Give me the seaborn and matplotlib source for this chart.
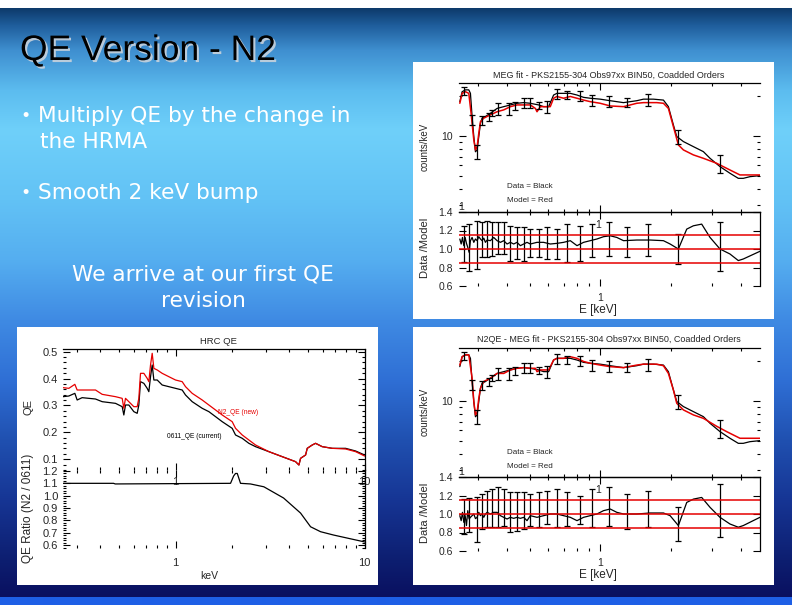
import numpy as np
import seaborn as sns
import matplotlib
matplotlib.use("Agg")
import matplotlib.pyplot as plt
import matplotlib.patheffects as pe
from matplotlib.colors import to_rgb
from matplotlib.patches import Rectangle
from matplotlib.ticker import NullFormatter, MultipleLocator

# ---- MEG spectrum (same data in both fit panels) ----
meg_e = [0.252, 0.2578, 0.2664, 0.2752, 0.2797, 0.2843, 0.2891, 0.2938, 0.2987, 0.3036,
         0.3086, 0.3136, 0.324, 0.3402, 0.3633, 0.3878, 0.414, 0.4418, 0.4717, 0.5036,
         0.5465, 0.5739, 0.6027, 0.6328, 0.6538, 0.6982, 0.7456, 0.7963, 0.8494, 0.9067,
         1.0, 1.103, 1.257, 1.432, 1.529, 1.686, 1.86, 1.953, 2.051, 2.12,
         2.263, 2.496, 2.753, 2.939, 3.241, 3.574, 3.879, 4.074, 4.348, 4.796]
meg_data = [18.1, 21.5, 22.2, 22.2, 20.9, 14.0, 9.9, 7.6, 7.85, 9.9,
            12.45, 13.6, 14.0, 14.8, 16.1, 16.6, 17.1, 17.6, 17.8, 17.6,
            17.1, 16.6, 16.6, 20.3, 20.9, 20.9, 20.9, 20.3, 19.5, 19.2,
            18.9, 18.4, 17.8, 18.4, 18.9, 18.9, 18.6, 16.6, 12.1, 9.9,
            9.07, 8.31, 7.62, 6.79, 5.88, 5.24, 4.8, 4.8, 4.94, 5.03]

err_e = [0.262, 0.2843, 0.2987, 0.3136, 0.3347, 0.3459, 0.366, 0.407, 0.4348, 0.4717, 0.5036,
         0.5465, 0.5929, 0.6538, 0.7215, 0.8222, 0.9216, 1.085, 1.299, 1.606, 2.154, 3.241]
err_lo = [20.3, 12.1, 6.68, 12.1, 13.0, 14.0, 14.4, 14.4, 15.7, 16.1, 16.1,
          15.9, 15.0, 18.9, 18.9, 18.4, 16.8, 16.6, 16.5, 16.8, 8.7, 5.3]
err_hi = [23.2, 14.4, 8.56, 14.1, 15.0, 15.7, 17.6, 17.6, 18.1, 19.2, 19.2,
          18.1, 18.4, 22.6, 21.9, 21.9, 20.3, 19.8, 19.2, 20.6, 11.1, 7.2]

# model of the old QE (top right)
old_model_e = [0.252, 0.2578, 0.2664, 0.2752, 0.2815, 0.2891, 0.2938, 0.2987, 0.3036, 0.3086,
               0.3188, 0.3402, 0.3633, 0.3878, 0.414, 0.4418, 0.4717, 0.5036, 0.529, 0.5377,
               0.5555, 0.5739, 0.6124, 0.6328, 0.6538, 0.6982, 0.7456, 0.7963, 0.8494, 0.9067,
               1.0, 1.103, 1.257, 1.432, 1.529, 1.742, 1.86, 1.953, 2.051, 2.154,
               2.263, 2.496, 2.753, 3.136, 3.459, 3.693, 3.943, 4.348, 4.796]
old_model = [17.6, 20.9, 21.5, 20.9, 14.8, 9.33, 7.85, 8.31, 10.47, 12.8,
             13.6, 14.4, 15.2, 15.7, 16.6, 17.1, 17.1, 17.1, 16.1, 15.2,
             16.6, 16.6, 16.6, 19.2, 19.8, 19.2, 19.8, 19.2, 18.6, 18.1,
             17.6, 16.8, 16.6, 17.6, 17.8, 17.8, 17.6, 16.1, 11.75, 8.56,
             7.85, 7.2, 6.79, 6.23, 5.71, 5.39, 5.09, 5.09, 5.09]

# model of the N2 QE (bottom right)
n2_model_e = [0.252, 0.2578, 0.2664, 0.2752, 0.2843, 0.2891, 0.2938, 0.2987, 0.3036, 0.3086,
              0.3188, 0.3402, 0.3633, 0.3878, 0.414, 0.4418, 0.4717, 0.5036, 0.529, 0.5377,
              0.5555, 0.6027, 0.6328, 0.6538, 0.6982, 0.7456, 0.7963, 0.8494, 0.9067, 1.0,
              1.103, 1.257, 1.432, 1.529, 1.742, 1.86, 1.953, 2.051, 2.12, 2.263,
              2.496, 2.753, 3.136, 3.459, 3.693, 3.943, 4.796]
n2_model = [18.6, 21.5, 22.2, 22.2, 14.8, 9.89, 7.85, 8.2, 10.47, 12.45,
            14.0, 14.8, 16.1, 16.1, 17.1, 17.6, 17.8, 17.6, 17.6, 16.6,
            17.1, 17.1, 20.3, 20.9, 20.9, 21.5, 20.9, 19.8, 19.2, 18.6,
            18.1, 17.8, 18.6, 18.9, 18.9, 18.4, 16.1, 12.1, 9.6, 8.56,
            7.85, 7.4, 6.45, 5.88, 5.55, 5.24, 5.24]

# data / model residuals
ratio_e = [0.252, 0.2554, 0.2587, 0.2621, 0.2655, 0.269, 0.2725, 0.2761, 0.2797, 0.2843,
           0.2891, 0.2938, 0.2987, 0.3036, 0.3086, 0.3136, 0.3188, 0.324, 0.3294, 0.3402,
           0.3515, 0.3633, 0.3754, 0.3878, 0.4007, 0.414, 0.4277, 0.4418, 0.4566, 0.4717,
           0.4875, 0.5036, 0.5377, 0.5739, 0.6124, 0.6538, 0.6982, 0.7456, 0.7963, 0.8494,
           0.9067, 0.968, 1.033, 1.103, 1.177, 1.257, 1.432, 1.632, 1.86, 1.986,
           2.154, 2.338, 2.496, 2.708, 2.939, 3.241, 3.574, 3.879, 4.074, 4.796]
old_ratio = [1.108, 1.054, 1.125, 1.036, 1.125, 1.061, 1.018, 0.964, 1.09, 1.125,
             1.072, 1.108, 1.09, 1.133, 1.108, 1.09, 1.118, 1.072, 1.097, 1.09,
             1.125, 1.09, 1.072, 1.09, 1.054, 1.072, 1.054, 1.072, 1.036, 1.054,
             1.072, 1.054, 1.072, 1.072, 1.054, 1.061, 1.072, 1.09, 1.036, 1.072,
             1.09, 1.108, 1.133, 1.143, 1.125, 1.09, 1.097, 1.097, 1.09, 1.054,
             1.0, 1.215, 1.251, 1.269, 1.125, 1.0, 0.946, 0.875, 0.892, 0.975]
n2_ratio = [0.982, 0.928, 1.018, 0.91, 0.982, 0.875, 1.036, 0.946, 0.964, 0.982,
            1.0, 0.95, 0.964, 1.018, 0.982, 1.0, 0.964, 1.0, 1.018, 1.0,
            1.018, 1.018, 0.982, 0.964, 0.946, 0.964, 0.953, 0.964, 0.953, 0.964,
            0.928, 0.982, 0.964, 0.982, 1.0, 1.0, 0.982, 0.964, 0.928, 0.964,
            0.982, 1.0, 1.036, 1.054, 1.018, 1.0, 1.0, 1.011, 1.011, 0.982,
            0.875, 1.125, 1.161, 1.179, 1.072, 0.964, 0.892, 0.857, 0.875, 0.964]

rerr_e = [0.2621, 0.2752, 0.2987, 0.3136, 0.3294, 0.3459, 0.3657, 0.3878, 0.414, 0.4418, 0.4717, 0.5036,
          0.5465, 0.5929, 0.6538, 0.7215, 0.8222, 0.9216, 1.085, 1.299, 1.606, 2.154, 3.241]
old_rerr_lo = [0.857, 0.760, 0.785, 0.91, 0.91, 0.928, 0.946, 0.946, 0.875, 0.892, 0.875, 0.91,
               0.91, 0.892, 0.892, 0.857, 0.875, 0.91, 0.928, 0.91, 0.928, 0.839, 0.767]
old_rerr_hi = [1.251, 1.269, 1.305, 1.287, 1.305, 1.287, 1.287, 1.287, 1.251, 1.233, 1.233, 1.215,
               1.215, 1.233, 1.215, 1.269, 1.251, 1.269, 1.287, 1.233, 1.269, 1.161, 1.287]
n2_rerr_lo = [0.785, 0.803, 0.695, 0.839, 0.857, 0.857, 0.857, 0.875, 0.803, 0.821, 0.839, 0.875,
              0.857, 0.892, 0.857, 0.875, 0.892, 0.857, 0.875, 0.839, 0.857, 0.713, 0.749]
n2_rerr_hi = [1.161, 1.168, 1.179, 1.215, 1.251, 1.269, 1.287, 1.269, 1.233, 1.233, 1.233, 1.215,
              1.233, 1.251, 1.269, 1.233, 1.197, 1.269, 1.287, 1.215, 1.251, 1.072, 1.323]
ratio_ref = [0.85, 1.0, 1.15]

# ---- HRC QE ----
qe_e = [0.2544, 0.2727, 0.2934, 0.3018, 0.3207, 0.3774, 0.4093, 0.4815, 0.5222, 0.5328,
        0.5437, 0.5663, 0.6018, 0.6269, 0.6397, 0.6528, 0.6799, 0.7081, 0.7226, 0.7375,
        0.7526, 0.7681, 0.8, 0.85, 0.9221, 1.0, 1.0845, 1.1295, 1.225, 1.384,
        1.501, 1.628, 1.766, 1.994, 2.077, 2.253, 2.443, 2.65, 3.118, 3.667,
        4.314, 4.494, 4.585, 4.874, 4.974, 5.285, 5.504, 5.97, 6.745, 7.934, 8.962, 10.0]
qe_0611 = [0.3327, 0.3352, 0.3451, 0.3203, 0.329, 0.324, 0.3141, 0.3079, 0.2955, 0.2646,
           0.3017, 0.3017, 0.277, 0.2708, 0.3017, 0.3885, 0.3823, 0.3637, 0.3513, 0.407,
           0.4505, 0.3947, 0.3947, 0.3761, 0.3699, 0.3637, 0.3575, 0.3389, 0.3141, 0.2894,
           0.277, 0.2584, 0.2397, 0.215, 0.1902, 0.1778, 0.1592, 0.1468, 0.1282, 0.1096,
           0.091, 0.0786, 0.1034, 0.1158, 0.1406, 0.153, 0.1592, 0.1468, 0.1406, 0.1406, 0.1307, 0.1158]
qe_n2 = [0.3662, 0.3637, 0.3786, 0.3575, 0.3575, 0.3575, 0.3414, 0.3327, 0.3265, 0.2894,
         0.3265, 0.3141, 0.2955, 0.2955, 0.3265, 0.4195, 0.4195, 0.4009, 0.3885, 0.4505,
         0.494, 0.438, 0.432, 0.4195, 0.407, 0.3947, 0.3885, 0.3699, 0.3451, 0.3203,
         0.3017, 0.2832, 0.2646, 0.2397, 0.215, 0.1902, 0.1716, 0.153, 0.1282, 0.1096,
         0.091, 0.0786, 0.1034, 0.1158, 0.1406, 0.153, 0.1592, 0.1468, 0.1406, 0.1381, 0.1282, 0.1121]

qr_e = [0.255, 0.47, 0.48, 1.954, 2.03, 2.077, 2.121, 2.207, 2.49, 2.932,
        3.728, 4.585, 5.18, 5.85, 6.855, 9.88, 10.0]
qr_val = [1.10, 1.10, 1.095, 1.10, 1.16, 1.18, 1.18, 1.10, 1.095, 1.072,
          0.981, 0.859, 0.748, 0.708, 0.681, 0.627, 0.625]

meg_minor = [0.3, 0.4, 0.5, 0.6, 0.7, 0.8, 0.9, 2, 3, 4]
qe_minor = [0.3, 0.4, 0.5, 0.6, 0.7, 0.8, 0.9, 2, 3, 4, 5, 6, 7, 8, 9]

W, H = 792, 612
RED = "#e60000"

sns.set_style("ticks")
plt.rcParams['font.family'] = ['Liberation Sans', 'DejaVu Sans']

fig = plt.figure(figsize=(W / 100, H / 100), dpi=100)


def frac(x0, y0, x1, y1):
    return [x0 / W, 1 - y1 / H, (x1 - x0) / W, (y1 - y0) / H]


def ftext(x, y, s, **kw):
    return fig.text(x / W, 1 - y / H, s, **kw)


# slide background
bg_stops = [(0, "#ffffff"), (7, "#ffffff"), (8, "#0d3a6b"), (25, "#1f5e9c"), (50, "#3f8fd0"),
            (90, "#5cbcef"), (130, "#6fd0fa"), (200, "#62c2f5"), (260, "#55aef0"),
            (320, "#3f8ae3"), (380, "#2f6fd5"), (440, "#2050b0"), (500, "#163594"),
            (560, "#0d1e70"), (596, "#0a1060"), (597, "#1e5fe6"), (604, "#1e5fe6"),
            (605, "#ffffff"), (612, "#ffffff")]
ys = [s[0] for s in bg_stops]
cols = np.array([to_rgb(s[1]) for s in bg_stops])
rows = np.arange(H)
grad = np.stack([np.interp(rows, ys, cols[:, k]) for k in range(3)], axis=1)[:, None, :]
bg = fig.add_axes([0, 0, 1, 1], zorder=-10)
bg.imshow(grad, aspect="auto", extent=[0, 1, 0, 1], interpolation="bilinear")
bg.set_axis_off()

for x0, y0, x1, y1 in [(413, 62, 774, 319), (17, 327, 378, 585), (413, 327, 774, 585)]:
    fig.patches.append(Rectangle((x0 / W, 1 - y1 / H), (x1 - x0) / W, (y1 - y0) / H,
                                 transform=fig.transFigure, facecolor="white",
                                 edgecolor="none", zorder=-5))

# slide text
ftext(20, 60, "QE Version - N2", fontsize=25.5, family="Liberation Sans", color="black",
      va="baseline", path_effects=[pe.withSimplePatchShadow(offset=(1.5, -1.5),
                                                            shadow_rgbFace="#c8d2dc", alpha=0.9)])
body = dict(family="DejaVu Sans", color="white", fontsize=15.6, va="baseline")
ftext(20, 121, "\u2022", family="DejaVu Sans", color="white", fontsize=12.5, va="baseline")
ftext(38, 122, "Multiply QE by the change in", **body)
ftext(40, 148, "the HRMA", **body)
ftext(20, 198, "\u2022", family="DejaVu Sans", color="white", fontsize=12.5, va="baseline")
ftext(38, 199, "Smooth 2 keV bump", **body)
ftext(203, 281, "We arrive at our first QE", ha="center", **body)
ftext(203, 307, "revision", ha="center", **body)


def style(ax, spines):
    for side in ["top", "bottom", "left", "right"]:
        ax.spines[side].set_visible(side in spines)
        ax.spines[side].set_linewidth(0.9)
        ax.spines[side].set_color("black")
    ax.set_facecolor("none")
    ax.tick_params(which="both", direction="in", top=True, bottom=True, left=True,
                   right=True, width=0.8, color="black")
    ax.tick_params(which="major", length=5)
    ax.tick_params(which="minor", length=2.5)
    ax.set_xlabel("")
    ax.set_ylabel("")


def meg_panel(top, title, model_e, model_c, ratio_v, rlo, rhi):
    ftext(609, top + 13, title, ha="center", va="center", fontsize=6.5)
    up = fig.add_axes(frac(459, top + 21, 760, top + 150))
    lo = fig.add_axes(frac(459, top + 150, 760, top + 224))

    sns.lineplot(x=meg_e, y=meg_data, ax=up, color="black", lw=0.9,
                 estimator=None, sort=False)
    sns.lineplot(x=model_e, y=model_c, ax=up, color=RED, lw=1.1,
                 estimator=None, sort=False)
    mid = np.sqrt(np.array(err_lo) * np.array(err_hi))
    up.errorbar(err_e, mid, yerr=[mid - np.array(err_lo), np.array(err_hi) - mid],
                fmt="none", ecolor="black", elinewidth=0.9, capsize=2.5, capthick=0.9)
    up.set_xscale("log")
    up.set_yscale("log")
    up.set_xlim(0.25, 4.8)
    up.set_ylim(2.68, 25)
    style(up, ["top", "bottom"])
    up.set_yticks([10], ["10"])
    up.set_yticks([3, 4, 5, 6, 7, 8, 9, 20], minor=True)
    up.yaxis.set_minor_formatter(NullFormatter())
    up.set_xticks([1], [""])
    up.set_xticks(meg_minor, minor=True)
    up.xaxis.set_minor_formatter(NullFormatter())
    up.tick_params(axis="y", labelsize=7.5, pad=4.3)

    sns.lineplot(x=ratio_e, y=ratio_v, ax=lo, color="black", lw=0.9,
                 estimator=None, sort=False)
    rmid = (np.array(rlo) + np.array(rhi)) / 2
    lo.errorbar(rerr_e, rmid, yerr=(np.array(rhi) - np.array(rlo)) / 2, fmt="none",
                ecolor="black", elinewidth=0.9, capsize=2.5, capthick=0.9)
    for r in ratio_ref:
        lo.axhline(r, color=RED, lw=1.1)
    lo.set_xscale("log")
    lo.set_xlim(0.25, 4.8)
    lo.set_ylim(0.6, 1.4)
    style(lo, ["top", "right"])
    lo.set_yticks([0.6, 0.8, 1.0, 1.2, 1.4], ["0.6", "0.8", "1.0", "1.2", "1.4"])
    lo.set_xticks([1], ["1"])
    lo.set_xticks(meg_minor, minor=True)
    lo.xaxis.set_minor_formatter(NullFormatter())
    lo.tick_params(axis="y", labelsize=7.5, pad=4.3)
    lo.tick_params(axis="x", labelsize=7.5, pad=5)

    ftext(598, top + 163, "1", ha="center", va="center", fontsize=7.5)
    ftext(461, top + 145, "1", ha="center", va="center", fontsize=7.5)
    ftext(425, top + 85, "counts/keV", rotation=90, ha="center", va="center", fontsize=7)
    ftext(425, top + 186, "Data /Model", rotation=90, ha="center", va="center", fontsize=8)
    ftext(598, top + 248, "E [keV]", ha="center", va="center", fontsize=8.5)
    ftext(507, top + 125, "Data = Black", ha="left", va="center", fontsize=5.8)
    ftext(507, top + 139, "Model = Red", ha="left", va="center", fontsize=5.8)


meg_panel(62, "MEG fit - PKS2155-304 Obs97xx BIN50, Coadded Orders",
          old_model_e, old_model, old_ratio, old_rerr_lo, old_rerr_hi)
meg_panel(327, "N2QE - MEG fit - PKS2155-304 Obs97xx BIN50, Coadded Orders",
          n2_model_e, n2_model, n2_ratio, n2_rerr_lo, n2_rerr_hi)

# ---- HRC QE panel ----
ftext(218, 341, "HRC QE", ha="center", va="center", fontsize=6.8)
qa = fig.add_axes(frac(63, 349, 365, 470))
qb = fig.add_axes(frac(63, 470, 365, 548))

sns.lineplot(x=qe_e, y=qe_0611, ax=qa, color="black", lw=0.9, estimator=None, sort=False)
sns.lineplot(x=qe_e, y=qe_n2, ax=qa, color=RED, lw=0.9, estimator=None, sort=False)
qa.set_xscale("log")
qa.set_xlim(0.254, 10.05)
qa.set_ylim(0.06, 0.51)
style(qa, ["top", "right"])
qa.set_yticks([0.1, 0.2, 0.3, 0.4, 0.5], ["0.1", "0.2", "0.3", "0.4", "0.5"])
qa.yaxis.set_minor_locator(MultipleLocator(0.02))
qa.set_xticks([1, 10], ["1", "10"])
qa.set_xticks(qe_minor, minor=True)
qa.xaxis.set_minor_formatter(NullFormatter())
qa.tick_params(axis="y", labelsize=8, pad=3.6)
qa.tick_params(axis="x", labelsize=8, pad=5)
ftext(218, 412, "N2_QE (new)", color=RED, fontsize=4.8, ha="left", va="center")
ftext(167, 436, "0611_QE (current)", color="black", fontsize=4.8, ha="left", va="center")

sns.lineplot(x=qr_e, y=qr_val, ax=qb, color="black", lw=0.9, estimator=None, sort=False)
qb.set_xscale("log")
qb.set_xlim(0.254, 10.05)
qb.set_ylim(0.576, 1.208)
style(qb, ["right"])
qb.set_yticks([0.6, 0.7, 0.8, 0.9, 1.0, 1.1, 1.2],
              ["0.6", "0.7", "0.8", "0.9", "1.0", "1.1", "1.2"])
qb.yaxis.set_minor_locator(MultipleLocator(0.02))
qb.set_xticks([1, 10], ["1", "10"])
qb.set_xticks(qe_minor, minor=True)
qb.xaxis.set_minor_formatter(NullFormatter())
qb.tick_params(axis="y", labelsize=8, pad=3.6)
qb.tick_params(axis="x", labelsize=8, pad=7)

ftext(28, 407, "QE", rotation=90, ha="center", va="center", fontsize=8)
ftext(28, 508, "QE Ratio (N2 / 0611)", rotation=90, ha="center", va="center", fontsize=8.5)
ftext(209, 576, "keV", ha="center", va="center", fontsize=7.5)

fig.savefig("out.png", dpi=100)
